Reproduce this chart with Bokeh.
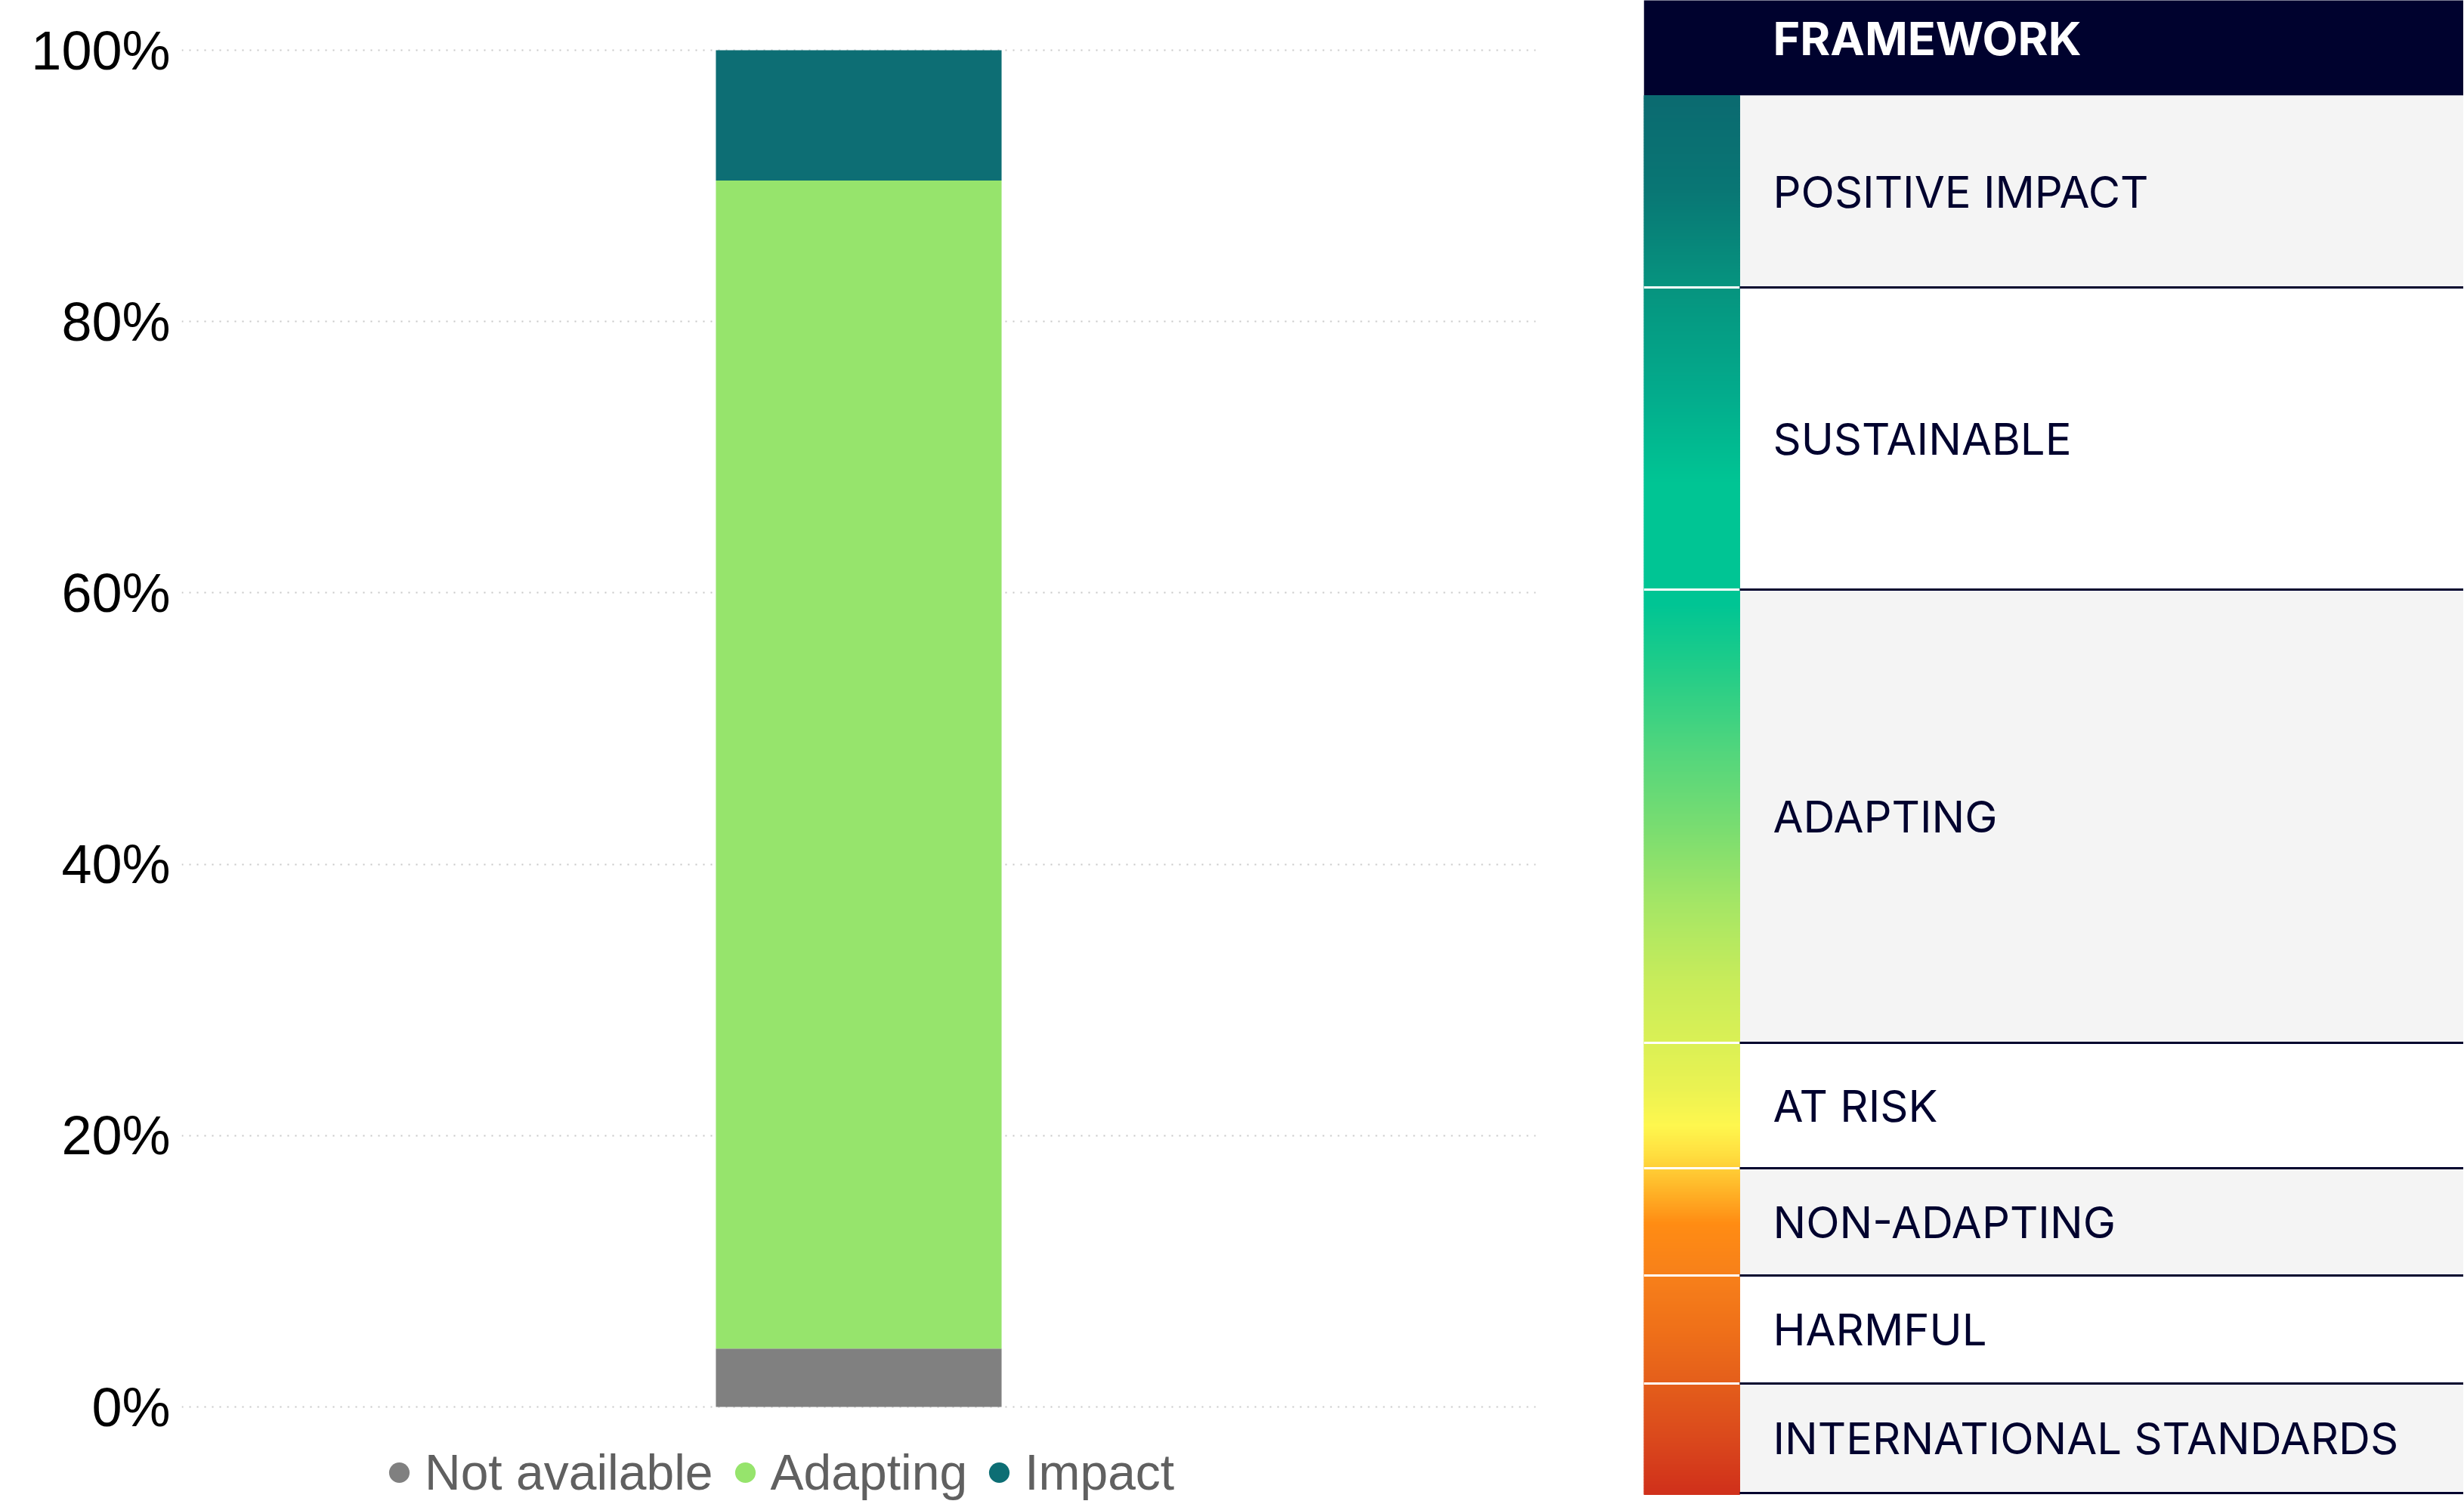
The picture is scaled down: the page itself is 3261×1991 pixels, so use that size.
from bokeh.plotting import figure
from bokeh.layouts import row
from bokeh.models import (Range1d, FixedTicker, NumeralTickFormatter, Legend,
                          LegendItem, ColumnDataSource, FactorRange)
from bokeh.core.properties import value
from bokeh.embed import file_html
from bokeh.resources import INLINE

# ---------------- data ----------------
categories = ["Portfolio"]
series = ["Not available", "Adapting", "Impact"]
not_available = [0.043]
adapting = [0.861]
impact = [0.096]
series_colors = ["#808080", "#96e46c", "#0d6e74"]
y_ticks = [0, 0.2, 0.4, 0.6, 0.8, 1.0]

framework_title = "FRAMEWORK"
framework_labels = ["POSITIVE IMPACT", "SUSTAINABLE", "ADAPTING", "AT RISK",
                    "NON-ADAPTING", "HARMFUL", "INTERNATIONAL STANDARDS"]

# ---------------- layout / style (page pixel coordinates) ----------------
PAGE_TOP, PAGE_BOTTOM = 0, 1990          # canvas extent on the page
PAGE_RIGHT = 3260
PANEL_LEFT = 2175
AXIS_TOP_PX, AXIS_ZERO_PX = 66, 1862     # where 100% and 0% sit on the page
px_per_unit = AXIS_ZERO_PX - AXIS_TOP_PX
y_start = -(PAGE_BOTTOM - AXIS_ZERO_PX) / px_per_unit
y_end = 1 + (AXIS_TOP_PX - PAGE_TOP) / px_per_unit

row_edges = [126, 380, 780, 1380, 1546, 1688, 1831, 1976]
gradient_stops = [
    (126, "#0b6a70"), (250, "#097674"), (380, "#06947f"), (520, "#03ab8c"),
    (640, "#00c594"), (800, "#00c594"), (880, "#1fcc89"), (1000, "#54d67c"),
    (1100, "#7bdd70"), (1200, "#a6e665"), (1300, "#c8ec5a"), (1380, "#daf055"),
    (1440, "#eaf252"), (1490, "#fef74e"), (1530, "#ffdd3f"), (1560, "#ffc22f"),
    (1620, "#ff8c13"), (1688, "#f7801a"), (1760, "#ef7019"), (1831, "#e45e1b"),
    (1900, "#db4a1c"), (1977, "#d0301b")]
NAVY = "#00022e"


def hex2rgb(h):
    return tuple(int(h[i:i + 2], 16) for i in (1, 3, 5))


def color_at(y):
    for (y0, c0), (y1, c1) in zip(gradient_stops[:-1], gradient_stops[1:]):
        if y0 <= y <= y1:
            t = (y - y0) / (y1 - y0)
            a, b = hex2rgb(c0), hex2rgb(c1)
            return "#%02x%02x%02x" % tuple(round(a[k] + (b[k] - a[k]) * t) for k in range(3))
    return gradient_stops[-1][1]


# ---------------- left chart ----------------
data = {"cat": categories}
for name, vals in zip(series, [not_available, adapting, impact]):
    data[name] = vals
src = ColumnDataSource(data)

p = figure(x_range=FactorRange(*categories), y_range=Range1d(y_start, y_end),
           width=PANEL_LEFT, height=PAGE_BOTTOM - PAGE_TOP, title=None,
           output_backend="svg", toolbar_location=None,
           min_border_left=240, min_border_right=143,
           min_border_top=0, min_border_bottom=0)
p.vbar_stack(series, x="cat", width=0.211, color=series_colors,
             line_color=None, source=src)

# legend entries: zero-size markers at each series' value, shown as dots in the legend
items = []
for name, vals, col in zip(series, [not_available, adapting, impact], series_colors):
    r = p.scatter(x=categories, y=vals, marker="circle", fill_color=col,
                  line_color=None, size=0)
    items.append(LegendItem(label=name, renderers=[r]))
legend = Legend(items=items, location=(254, 3), orientation="horizontal",
                glyph_width=68, glyph_height=68, label_standoff=0, spacing=8,
                padding=0, margin=0, background_fill_alpha=0,
                border_line_color=None,
                label_text_font="Liberation Sans", label_text_font_size="66px",
                label_text_color="#606060")
p.add_layout(legend)

p.xaxis.visible = False
p.xgrid.grid_line_color = None
p.yaxis.ticker = FixedTicker(ticks=y_ticks)
p.yaxis.formatter = NumeralTickFormatter(format="0%")
p.yaxis.axis_line_color = None
p.yaxis.major_tick_line_color = None
p.yaxis.minor_tick_line_color = None
p.yaxis.major_tick_out = 0
p.yaxis.major_tick_in = 0
p.yaxis.major_label_standoff = 15
p.yaxis.major_label_text_font = "Liberation Sans"
p.yaxis.major_label_text_font_size = "72px"
p.yaxis.major_label_text_color = "#000000"
p.ygrid.ticker = FixedTicker(ticks=y_ticks)
p.ygrid.grid_line_color = "#c8c8c8"
p.ygrid.grid_line_dash = "2 8"
p.ygrid.grid_line_width = 2
p.outline_line_color = None

# ---------------- right framework panel ----------------
q = figure(x_range=Range1d(PANEL_LEFT, PAGE_RIGHT), y_range=Range1d(PAGE_BOTTOM, PAGE_TOP),
           width=PAGE_RIGHT - PANEL_LEFT, height=PAGE_BOTTOM - PAGE_TOP, title=None,
           min_border=0, output_backend="svg", toolbar_location=None)
q.axis.visible = False
q.grid.visible = False
q.outline_line_color = None

# header
q.quad(left=[PANEL_LEFT], right=[PAGE_RIGHT + 20], top=[-20], bottom=[row_edges[0]],
       fill_color=NAVY, line_color=None)
q.text(x=[2346], y=[50], text=[framework_title], text_color="white",
       text_font=value("Inter"), text_font_style="bold",
       text_font_size="61px", text_baseline="middle")

# row backgrounds
n = len(framework_labels)
bg = ["#f4f4f4" if i % 2 == 0 else "#ffffff" for i in range(n)]
q.quad(left=[2302] * n, right=[PAGE_RIGHT + 20] * n,
       top=row_edges[:-1], bottom=row_edges[1:], fill_color=bg, line_color=None)

# gradient strip
ys = list(range(row_edges[0], row_edges[-1] + 1, 2))
cols = [color_at(y + 1) for y in ys]
q.quad(left=[PANEL_LEFT] * len(ys), right=[2302] * len(ys), top=ys,
       bottom=[y + 2 for y in ys], fill_color=cols, line_color=cols, line_width=1)

# white gaps in strip
gaps = row_edges[1:-1]
q.segment(x0=[PANEL_LEFT] * len(gaps), x1=[2302] * len(gaps), y0=gaps, y1=gaps,
          line_color="white", line_width=3)

# separators
seps = row_edges[1:]
q.segment(x0=[2302] * len(seps), x1=[PAGE_RIGHT + 20] * len(seps), y0=seps, y1=seps,
          line_color=NAVY, line_width=3)

centers = [(a + b) / 2 for a, b in zip(row_edges[:-1], row_edges[1:])]
q.text(x=[2346] * n, y=centers, text=framework_labels,
       text_color=NAVY, text_font=value("Inter"), text_font_size="58px",
       text_baseline="middle")

layout = row(p, q)
open("out.html", "w").write(file_html(layout, INLINE))
